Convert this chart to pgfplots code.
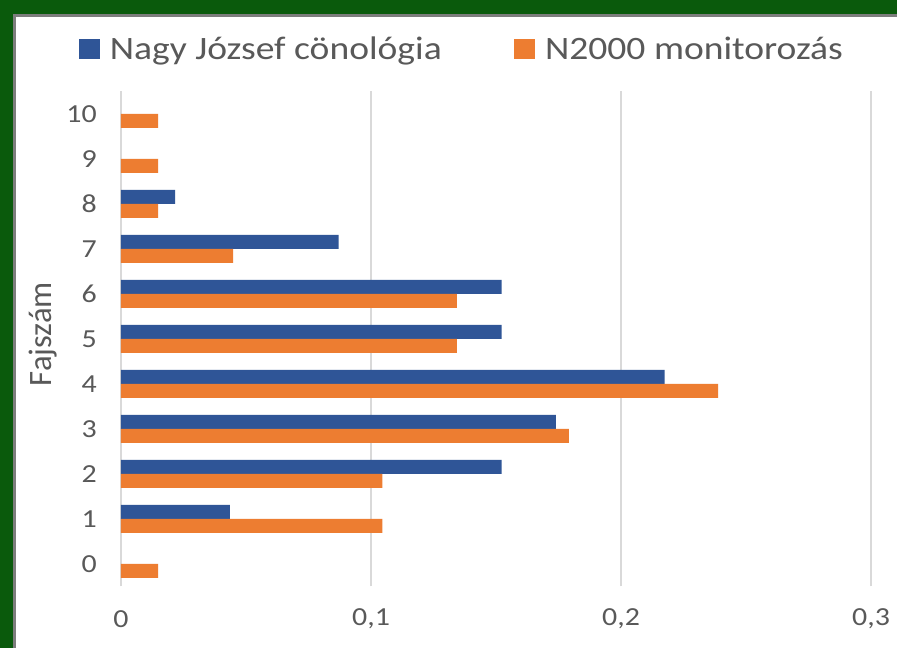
\documentclass[border=0pt]{standalone}
\usepackage{fontspec}
\setmainfont{Carlito}[FakeStretch=1.15]
\newfontfamily\labelfont{Carlito}
\usepackage{pgfplots}
\pgfplotsset{compat=1.18}

\definecolor{jblue}{RGB}{47,85,151}
\definecolor{norange}{RGB}{237,125,49}
\definecolor{txtgray}{RGB}{89,89,89}
\definecolor{gridgray}{RGB}{217,217,217}
\definecolor{bggreen}{RGB}{10,90,12}
\definecolor{edgegray}{RGB}{125,125,125}

\begin{document}
\begin{tikzpicture}
% page: 897x648 px at 0.75pt per px
\path[use as bounding box] (0,0) rectangle (672.75pt,486pt);
\fill[bggreen] (0,0) rectangle (672.75pt,486pt);
\fill[edgegray] (9.75pt,-2pt) rectangle (680pt,475.5pt);
\fill[white] (12pt,-2pt) rectangle (680pt,473.25pt);

\begin{axis}[
    at={(90.75pt,46.125pt)}, anchor=south west,
    scale only axis, width=562.5pt, height=371.25pt,
    xbar, bar width=10.5pt,
    xmin=0, xmax=0.3, ymin=-0.5, ymax=10.5,
    xtick={0,0.1,0.2,0.3}, ytick={0,1,...,10},
    xmajorgrids, grid style={gridgray, line width=1pt},
    axis line style={draw=none}, major tick length=0pt,
    /pgf/number format/use comma,
    /pgf/number format/assume math mode=true,
    ticklabel style={font=\fontsize{19.5}{23}\selectfont, text=txtgray},
    xticklabel style={anchor=center, inner sep=0pt, yshift=-24.4pt},
    yticklabel style={anchor=east, inner sep=0pt, xshift=-18pt},
    ylabel={Fajszám},
    ylabel style={at={(axis description cs:-0.104,0.51)}, anchor=center,
        font=\labelfont\fontsize{24.5}{28}\selectfont, text=txtgray},
    legend columns=2,
    legend style={at={(axis description cs:0.457,1.086)}, anchor=center,
        draw=none, fill=none, text=txtgray,
        font=\fontsize{24.5}{29}\selectfont,
        nodes={inner ysep=1pt, inner xsep=4.5pt},
        /tikz/every even column/.append style={column sep=49.5pt}},
    legend image code/.code={\fill[#1] (0pt,-7.5pt) rectangle (15.75pt,7.5pt);
        \path (19pt,0pt);},
]
\addplot[fill=jblue, draw=none, bar shift=5.25pt] coordinates {
    (0.0435,1) (0.1522,2) (0.1739,3) (0.2174,4) (0.1522,5)
    (0.1522,6) (0.0870,7) (0.0217,8)
};
\addlegendentry{Nagy József cönológia}
\addplot[fill=norange, draw=none, bar shift=-5.25pt] coordinates {
    (0.0149,0) (0.1045,1) (0.1045,2) (0.1791,3) (0.2388,4) (0.1343,5)
    (0.1343,6) (0.0448,7) (0.0149,8) (0.0149,9) (0.0149,10)
};
\addlegendentry{N2000 monitorozás}
\end{axis}
\end{tikzpicture}
\end{document}
